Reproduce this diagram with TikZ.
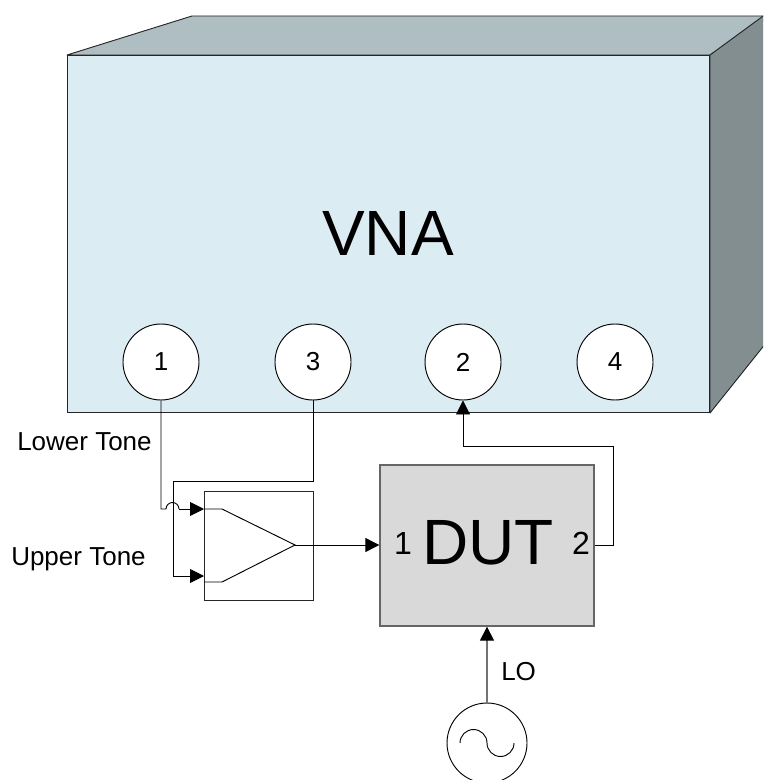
\documentclass[tikz,border=0pt]{standalone}
\usepackage{fontspec}
\setmainfont{Liberation Sans}
\usetikzlibrary{arrows.meta}
\definecolor{vnafront}{RGB}{219,237,243}
\definecolor{vnatop}{RGB}{175,190,194}
\definecolor{vnaside}{RGB}{131,142,145}
\definecolor{dutc}{RGB}{217,217,217}
\tikzset{
  port/.style={circle,draw=black,fill=white,line width=0.7pt,minimum size=57pt,inner sep=0pt,font=\fontsize{19.5}{21}\selectfont},
  lab/.style={inner sep=0pt,font=\fontsize{19.5}{21}\selectfont},
  dlab/.style={inner sep=0pt,font=\fontsize{24}{26}\selectfont},
  wire/.style={line width=0.7pt,black},
  feed/.style={wire,-{Triangle[length=10.5pt,width=10.5pt]}},
  body/.style={draw=black!85,line width=0.7pt,line join=round},
}
\begin{document}
\begin{tikzpicture}[x=0.75pt,y=-0.75pt]
  \useasboundingbox[clip] (0,0) rectangle (763,780);
  % cabinet
  \fill[vnatop,body] (67,55)--(192,16)--(770,16)--(710,55)--cycle;
  \fill[vnaside,body] (710,55)--(770,11)--(770,338)--(710,413)--cycle;
  \node[rectangle,draw=black!85,fill=vnafront,line width=0.7pt,minimum width=482pt,minimum height=268pt,inner sep=0pt] (vna) at (388.5,234) {};
  \node[inner sep=0pt,font=\fontsize{48}{54}\selectfont] (vnalab) at (388,233) {VNA};
  \node[port] (p1) at (161,362) {1};
  \node[port] (p3) at (313,362) {3};
  \node[port] (p2) at (463,362) {2};
  \node[port] (p4) at (615,362) {4};
  % combiner
  \node[rectangle,draw=black!85,line width=0.7pt,minimum size=81.75pt,inner sep=0pt] (amp) at (258.5,545.5) {};
  \coordinate (ampa) at (204,509);
  \coordinate (ampb) at (222,509);
  \coordinate (ampc) at (204,582);
  \coordinate (ampd) at (222,582);
  \coordinate (ampo) at (295,545);
  \draw[wire] (ampa)--(ampb)--(ampo)--(ampd)--(ampc);
  % dut
  \node[rectangle,draw=black!60,fill=dutc,line width=1pt,minimum width=160.5pt,minimum height=120.75pt,inner sep=0pt] (dut) at (487,545.5) {};
  \node[inner sep=0pt,font=\fontsize{48}{54}\selectfont] (dutlab) at (488,543) {DUT};
  \node[dlab] (d1) at (403,543) {1};
  \node[dlab] (d2) at (581,543) {2};
  \node[circle,draw=black,line width=0.7pt,minimum size=60pt,inner sep=0pt] (lo) at (487,743) {};
  \draw[wire] (460,743) arc[start angle=180,end angle=360,radius=13.5] arc[start angle=180,end angle=0,radius=13.5];
  % wires
  \coordinate (a) at (161,509);
  \coordinate (b) at (166,509);
  \coordinate (c) at (179,509);
  \draw[wire] (p1.south) -- (a) -- (b) arc[start angle=180,end angle=360,radius=6.5] -- (c);
  \draw[feed] (c) -- (ampa);
  \coordinate (e) at (313,481);
  \coordinate (f) at (173,481);
  \coordinate (g) at (173,576);
  \coordinate (k) at (204,576);
  \draw[feed] (p3.south) -- (e) -- (f) -- (g) -- (k);
  \draw[feed] (ampo) -- (dut.west |- ampo);
  \coordinate (h) at (613,545);
  \coordinate (i) at (613,446);
  \coordinate (j) at (463,446);
  \draw[feed] (dut.east |- h) -- (h) -- (i) -- (j) -- (p2.south);
  \draw[line width=1pt,black!55,-{Triangle[length=10.5pt,width=10.5pt,color=black]}] (lo.north) -- (dut.south -| lo.north);
  % labels
  \node[lab,anchor=west] (lower) at (17,442) {Lower Tone};
  \node[lab,anchor=west] (upper) at (11,559) {Upper Tone};
  \node[lab,anchor=west] (lolab) at (501,672) {LO};
\end{tikzpicture}
\end{document}
